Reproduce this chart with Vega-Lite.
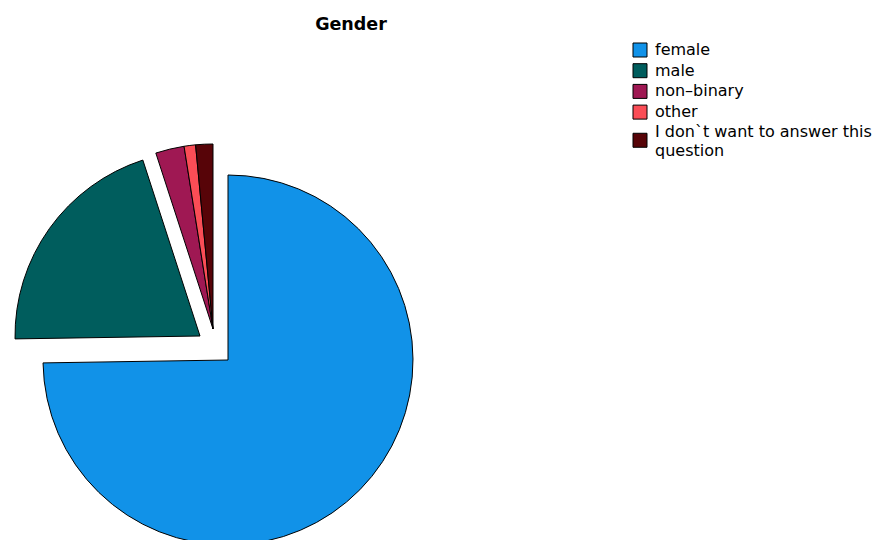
{
  "$schema": "https://vega.github.io/schema/vega-lite/v6.json",
  "width": 888,
  "height": 540,
  "autosize": "none",
  "padding": 0,
  "background": "white",
  "title": {"text": "Gender", "font": "DejaVu Sans", "fontSize": 17.5, "fontWeight": "bold", "color": "black", "anchor": "middle", "dx": -93, "dy": 55, "baseline": "bottom"},
  "data": {"values": [
    {"gender": "female", "count": 299, "order": 1},
    {"gender": "male", "count": 81, "order": 2},
    {"gender": "non–binary", "count": 10, "order": 3},
    {"gender": "other", "count": 4, "order": 4},
    {"gender": "I don`t want to answer this question", "count": 6, "order": 5}
  ]},
  "transform": [
    {"stack": "count", "groupby": [], "sort": [{"field": "order", "order": "ascending"}], "as": ["t0", "t1"]}
  ],
  "encoding": {
    "theta": {"field": "t0", "type": "quantitative", "scale": {"domain": [0, 400]}},
    "theta2": {"field": "t1"},
    "color": {
      "field": "gender",
      "type": "nominal",
      "sort": ["female", "male", "non–binary", "other", "I don`t want to answer this question"],
      "scale": {
        "domain": ["female", "male", "non–binary", "other", "I don`t want to answer this question"],
        "range": ["#1192e8", "#005d5d", "#9f1853", "#fa4d56", "#570408"]
      },
      "legend": {
        "title": null,
        "orient": "none",
        "legendX": 632,
        "legendY": 42,
        "symbolType": "square",
        "symbolSize": 196,
        "symbolStrokeColor": "black",
        "symbolStrokeWidth": 1,
        "symbolOpacity": 1,
        "labelFont": "DejaVu Sans",
        "labelFontSize": 16,
        "labelColor": "black",
        "labelOffset": 7,
        "labelLimit": 400,
        "labelBaseline": "middle",
        "rowPadding": 2.7,
        "labelExpr": "datum.label == 'I don`t want to answer this question' ? ['I don`t want to answer this', 'question'] : datum.label",
        "encode": {
          "symbols": {
            "update": {
              "shape": {"signal": "datum.value == 'I don`t want to answer this question' ? 'M-1,0.21H1V2.21H-1Z' : 'square'"}
            }
          },
          "labels": {
            "update": {
              "lineHeight": {"value": 19}
            }
          }
        }
      }
    }
  },
  "layer": [
    {
      "transform": [{"filter": "datum.order == 1"}],
      "mark": {"type": "arc", "x": 228, "y": 360, "outerRadius": 185, "stroke": "black", "strokeWidth": 1, "opacity": 1}
    },
    {
      "transform": [{"filter": "datum.order == 2"}],
      "mark": {"type": "arc", "x": 200, "y": 336, "outerRadius": 185, "stroke": "black", "strokeWidth": 1, "opacity": 1}
    },
    {
      "transform": [{"filter": "datum.order >= 3"}],
      "mark": {"type": "arc", "x": 213, "y": 329, "outerRadius": 185, "stroke": "black", "strokeWidth": 1, "opacity": 1}
    }
  ]
}
